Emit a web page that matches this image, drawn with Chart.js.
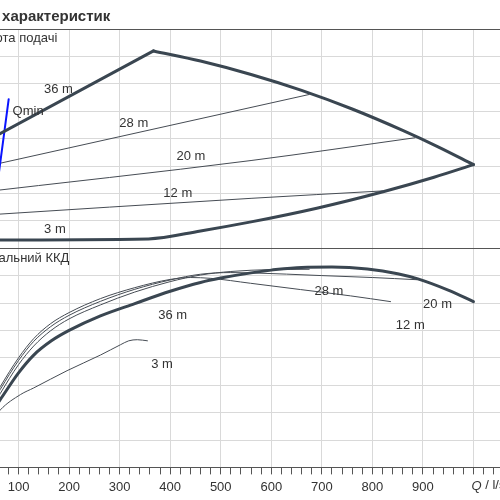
<!DOCTYPE html>
<html>
<head>
<meta charset="utf-8">
<script src="https://cdn.jsdelivr.net/npm/chart.js@4.4.0/dist/chart.umd.min.js"></script>
<style>
html, body { margin: 0; padding: 0; background: #fff; overflow: hidden; }
#wrap { position: absolute; left: -72px; top: 0; width: 610px; height: 500px; }
</style>
</head>
<body>
<div id="wrap"><canvas id="myChart"></canvas></div>
<script>
// flow Q (l/s), head H (m), efficiency (%)
var q36 = [0, 367];
var h36 = [35.5, 72.0];
var qMax = [367, 460, 560, 660, 760, 860, 930, 1000];
var hMax = [72.0, 68.3, 63.4, 57.6, 50.8, 43.0, 37.0, 30.5];
var q28 = [0, 675];
var h28 = [28.4, 56.1];
var q20 = [0, 560, 884];
var h20 = [19.9, 32.0, 40.3];
var q12 = [0, 560, 820];
var h12 = [11.7, 18.2, 20.9];
var q3 = [0, 357, 460, 560, 690, 823, 922, 1000];
var h3 = [3.0, 3.4, 6.3, 9.6, 14.6, 20.7, 25.9, 30.5];
var qMin = [43.5, 80.5];
var hMin = [3.0, 54.4];

var qEff36 = [50, 64, 100, 130, 165, 200, 262, 330, 400, 460, 500, 560, 600, 660, 720, 790, 850, 890, 950, 1000];
var eff36 = [21, 24.8, 34.5, 41.0, 46.2, 50.0, 55.3, 59.8, 64.3, 67.5, 69.1, 71.0, 72.0, 73.0, 73.1, 72.4, 70.7, 68.8, 64.7, 60.5];
var qEff28 = [50, 64, 100, 130, 163, 200, 262, 330, 400, 460, 520, 600, 675];
var eff28 = [22.5, 27, 37.5, 44.3, 49.8, 54.2, 59.3, 64.0, 67.8, 70.2, 71.5, 72.2, 72.3];
var qEff20 = [50, 64, 100, 130, 163, 200, 262, 330, 400, 460, 520, 560, 700, 800, 888];
var eff20 = [24, 28.5, 39, 46, 51.3, 55.5, 60.6, 65.0, 68.4, 70.5, 71.1, 71.0, 70.0, 69.3, 68.5];
var qEff12 = [50, 64, 100, 130, 163, 200, 262, 330, 400, 440, 480, 559, 658, 757, 836];
var eff12 = [25, 29.5, 40, 47, 52.4, 56.5, 61.6, 65.6, 68.6, 69.3, 69.0, 67.2, 64.9, 62.6, 60.5];
var qEff3 = [50, 64, 104, 130, 196, 262, 302, 318, 335, 355];
var eff3 = [17.5, 21, 26.6, 29, 35.3, 41, 44.8, 46.2, 46.6, 46.2];

// curve labels, anchored in data units
var headLabels = ['36 m', '28 m', 'Qmin', '20 m', '12 m', '3 m'];
var headLabelQ = [179, 328, 119, 441, 415, 172];
var headLabelH = [57.8, 45.4, 49.8, 33.4, 20.0, 6.8];
var effLabels = ['36 m', '3 m', '28 m', '20 m', '12 m'];
var effLabelQ = [405, 384, 714, 929, 875];
var effLabelE = [55.3, 37.6, 64.4, 59.6, 51.9];

var title = 'Криві характеристик';
var headTitle = 'Висота подачі';
var effTitle = 'Загальний ККД';
var qUnit = ' / l/s';

var thick = '#3a4651';
var thin = '#464c54';
var gridCol = '#d9d9d9';
var frameCol = '#555';

Chart.defaults.font.family = '"Liberation Sans", Arial, sans-serif';
Chart.defaults.font.size = 13;
Chart.defaults.color = '#333';

function series(qs, vs, axis, color, width, curved) {
    return {
        data: qs.map(function (q, i) { return {x: q, y: vs[i]}; }),
        yAxisID: axis,
        borderColor: color,
        borderWidth: width,
        borderCapStyle: 'round',
        pointRadius: 0,
        fill: false,
        tension: 0,
        cubicInterpolationMode: curved ? 'monotone' : 'default'
    };
}

var textPlugin = {
    id: 'texts',
    afterDatasetsDraw: function (chart) {
        var ctx = chart.ctx, xs = chart.scales.x, a = chart.chartArea;
        var yH = chart.scales.yH, yE = chart.scales.yE;
        ctx.save();
        ctx.fillStyle = '#333';
        ctx.font = '13px "Liberation Sans", Arial, sans-serif';
        ctx.textAlign = 'center';
        ctx.textBaseline = 'middle';
        headLabels.forEach(function (t, i) {
            ctx.fillText(t, xs.getPixelForValue(headLabelQ[i]), yH.getPixelForValue(headLabelH[i]));
        });
        effLabels.forEach(function (t, i) {
            ctx.fillText(t, xs.getPixelForValue(effLabelQ[i]), yE.getPixelForValue(effLabelE[i]));
        });
        // panel titles
        ctx.textAlign = 'left';
        ctx.textBaseline = 'alphabetic';
        ctx.fillText(headTitle, a.left + 5, yH.top + 13);
        ctx.fillText(effTitle, a.left + 11, yE.top + 14);
        // main title
        ctx.font = 'bold 15px "Liberation Sans", Arial, sans-serif';
        ctx.fillText(title, a.left - 11, yH.top - 8);
        // unit label at the end of the flow axis
        var x0 = xs.getPixelForValue(1000) - 2;
        var y0 = xs.top + 7 + 5;
        ctx.textBaseline = 'top';
        ctx.font = 'italic 13px "Liberation Sans", Arial, sans-serif';
        ctx.fillText('Q', x0, y0);
        var w = ctx.measureText('Q').width;
        ctx.font = '13px "Liberation Sans", Arial, sans-serif';
        ctx.fillText(qUnit, x0 + w, y0);
        ctx.restore();
    }
};

var ctx = document.getElementById('myChart').getContext('2d');
var chart = new Chart(ctx, {
    type: 'line',
    data: {
        datasets: [
            series(q36, h36, 'yH', thick, 3, false),
            series(qMax, hMax, 'yH', thick, 3, true),
            series(q3, h3, 'yH', thick, 3, true),
            series(qMin, hMin, 'yH', '#0a14ff', 2, false),
            series(q28, h28, 'yH', thin, 1, false),
            series(q20, h20, 'yH', thin, 1, true),
            series(q12, h12, 'yH', thin, 1, true),
            series(qEff36, eff36, 'yE', thick, 3, true),
            series(qEff28, eff28, 'yE', thin, 1, true),
            series(qEff20, eff20, 'yE', thin, 1, true),
            series(qEff12, eff12, 'yE', thin, 1, true),
            series(qEff3, eff3, 'yE', thin, 1, true)
        ]
    },
    options: {
        responsive: true,
        maintainAspectRatio: false,
        animation: false,
        events: [],
        layout: { padding: { top: 29, right: 14, bottom: 0, left: 0 } },
        plugins: { legend: { display: false }, tooltip: { enabled: false } },
        scales: {
            x: {
                type: 'linear',
                min: 0,
                max: 1100,
                grid: {
                    color: function (c) { return c.tick && c.tick.value % 100 === 0 ? gridCol : 'rgba(0,0,0,0)'; },
                    tickColor: frameCol,
                    tickLength: 7
                },
                border: { color: frameCol },
                ticks: {
                    stepSize: 20,
                    autoSkip: false,
                    maxRotation: 0,
                    padding: 5,
                    color: '#333',
                    callback: function (v) { return (v % 100 === 0 && v > 0 && v < 1000) ? String(v) : ''; }
                }
            },
            yE: {
                type: 'linear',
                position: 'left',
                stack: 'panels',
                stackWeight: 1,
                min: 0,
                max: 80,
                afterFit: function (s) { s.width = 40; },
                grid: {
                    color: function (c) { return (c.tick.value === 80 || c.tick.value === 0) ? frameCol : gridCol; },
                    drawTicks: false
                },
                border: { display: false },
                ticks: { stepSize: 10, autoSkip: false, padding: 4 }
            },
            yH: {
                type: 'linear',
                position: 'left',
                stack: 'panels',
                stackWeight: 1,
                min: 0,
                max: 80,
                afterFit: function (s) { s.width = 40; },
                grid: {
                    color: function (c) { return (c.tick.value === 80 || c.tick.value === 0) ? frameCol : gridCol; },
                    drawTicks: false
                },
                border: { display: false },
                ticks: { stepSize: 10, autoSkip: false, padding: 4 }
            }
        }
    },
    plugins: [textPlugin]
});
</script>
</body>
</html>
